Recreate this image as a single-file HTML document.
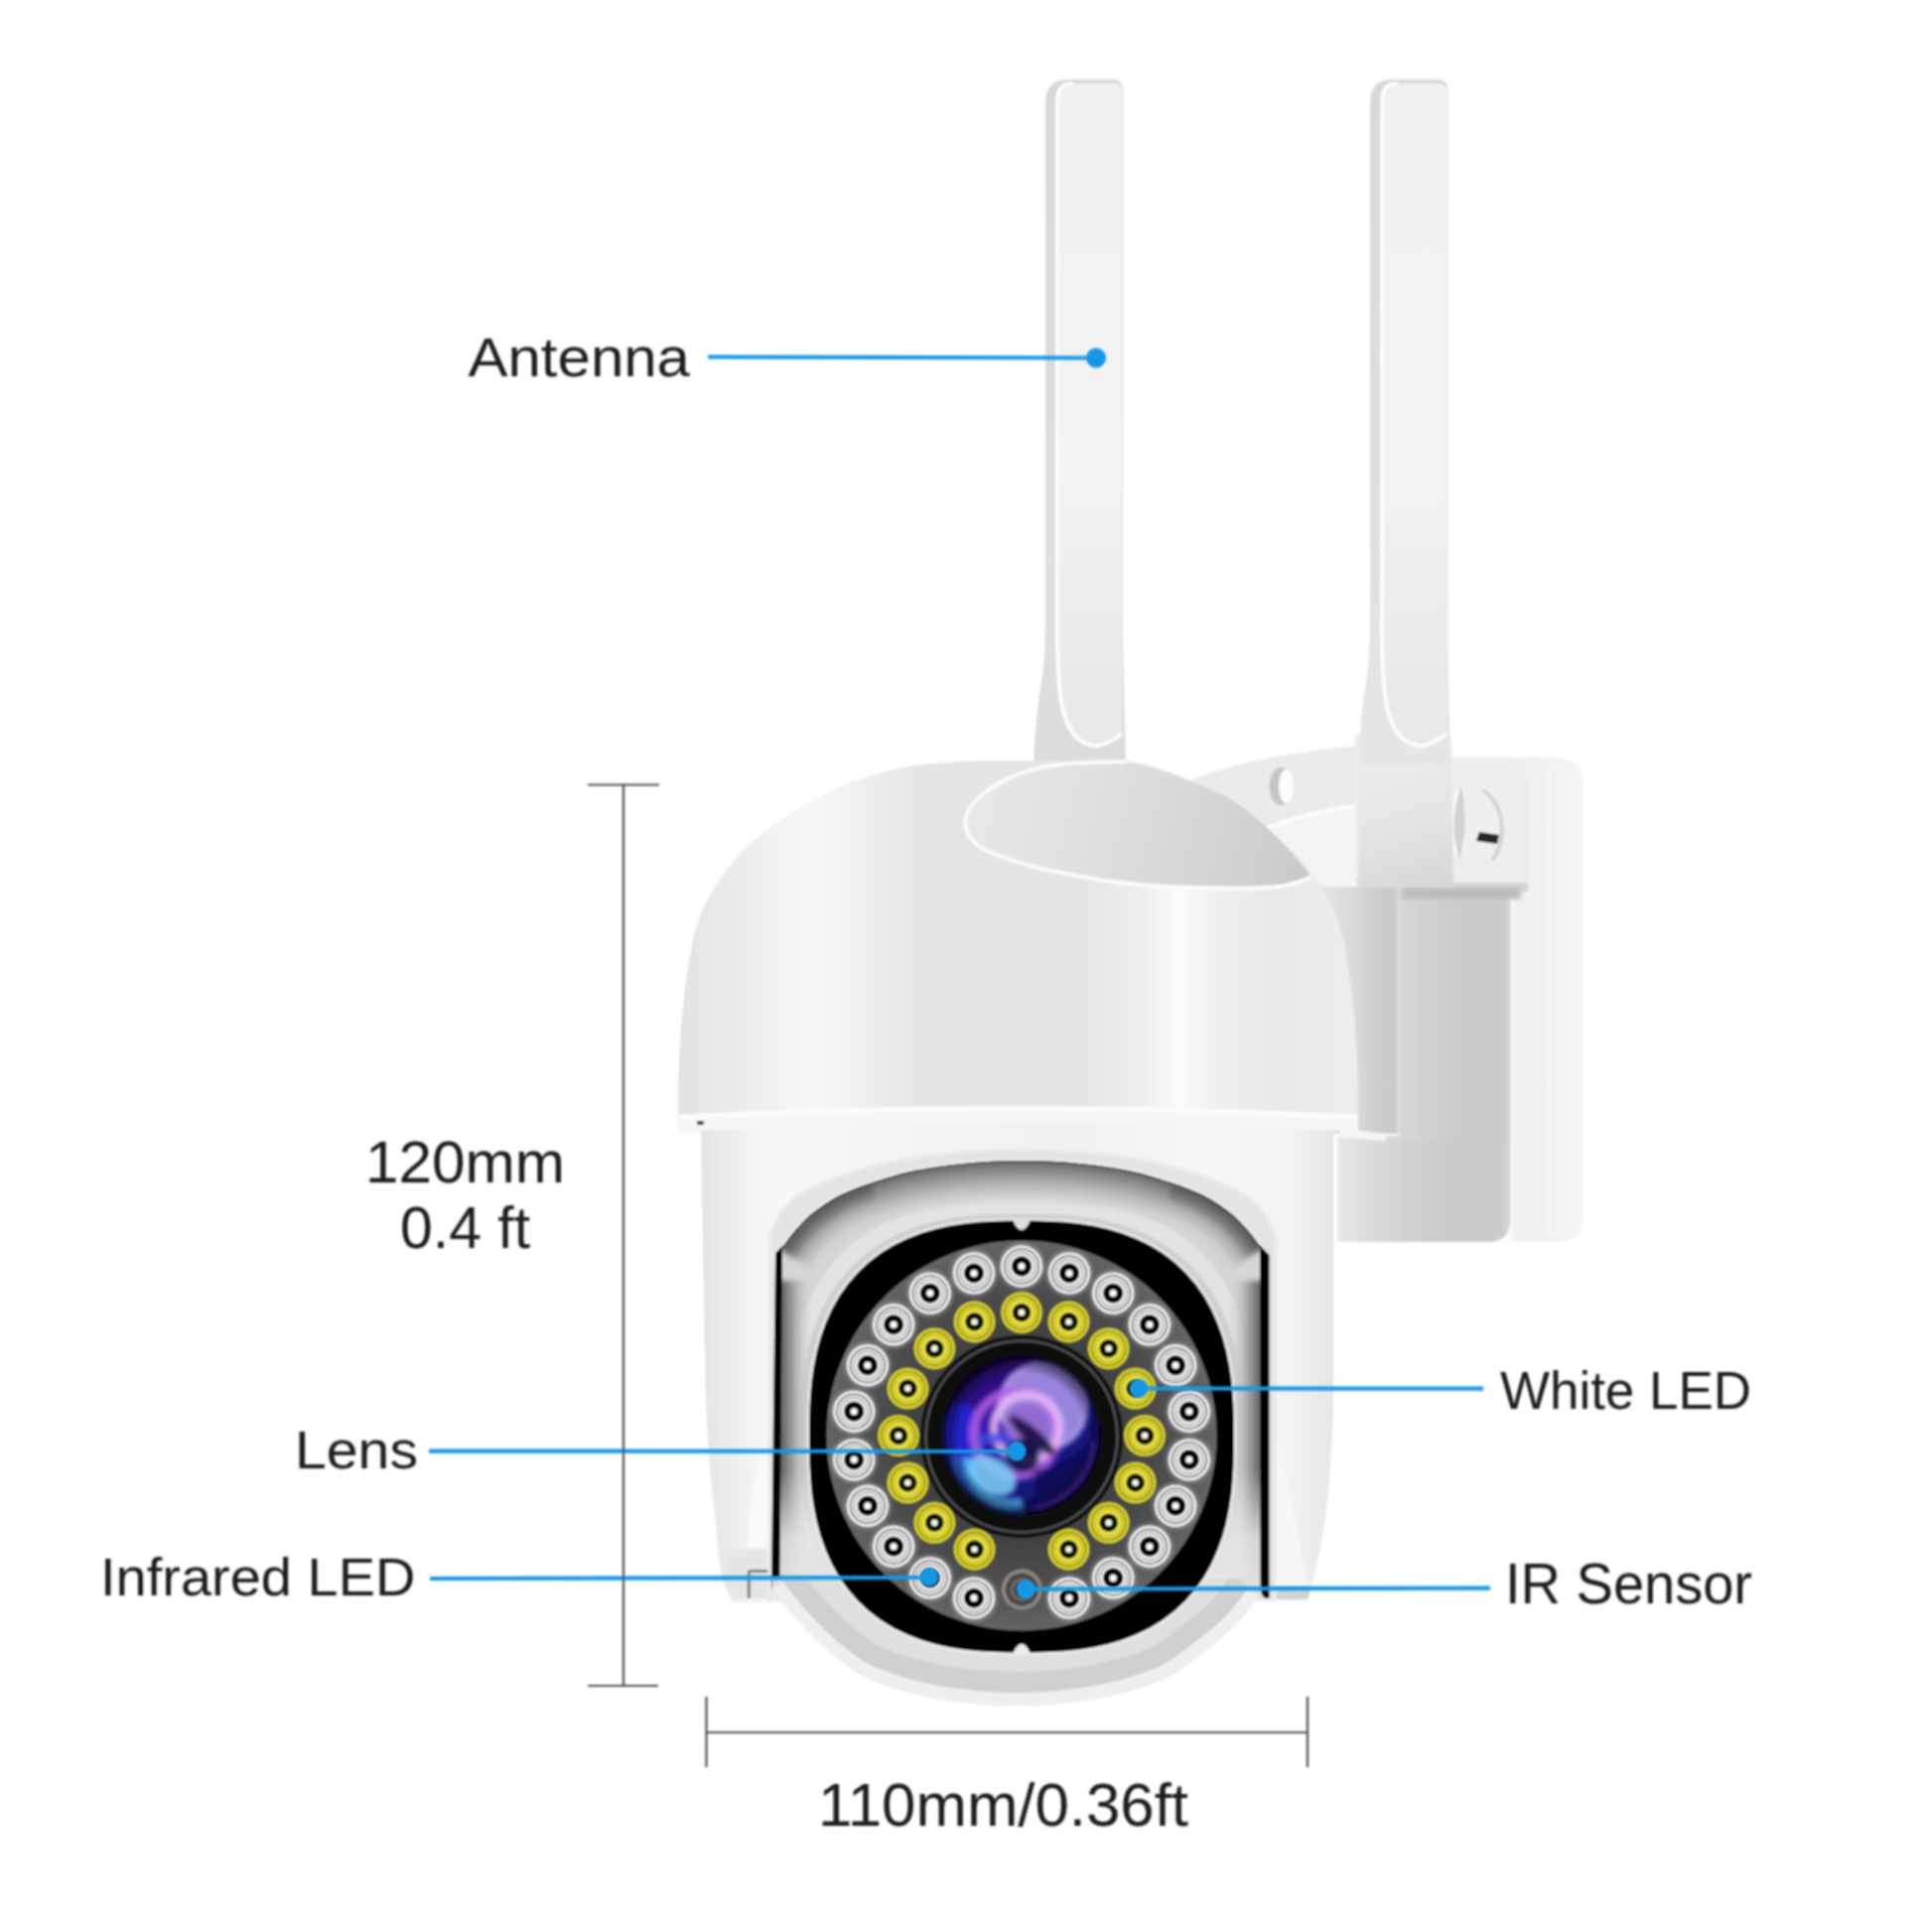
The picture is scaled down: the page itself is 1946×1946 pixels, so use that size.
<!DOCTYPE html>
<html><head><meta charset="utf-8"><title>Camera</title>
<style>
html,body{margin:0;padding:0;background:#fff;}
body{width:1946px;height:1946px;overflow:hidden;position:relative;font-family:"Liberation Sans",sans-serif;}
svg{position:absolute;left:0;top:0;display:block;}
.t{position:absolute;white-space:nowrap;color:#1a1a1a;line-height:1;transform-origin:0 0;font-family:"Liberation Sans",sans-serif;}
</style></head><body>
<svg width="1946" height="1946" viewBox="0 0 1946 1946">
<defs>
<filter id="soft" x="-2%" y="-2%" width="104%" height="104%"><feGaussianBlur stdDeviation="1.1"/></filter>
<filter id="soft2" x="-5%" y="-5%" width="110%" height="110%"><feGaussianBlur stdDeviation="2.5"/></filter>
<linearGradient id="gDome" gradientUnits="userSpaceOnUse" x1="683" y1="0" x2="1366" y2="0">
 <stop offset="0" stop-color="#e2e2e2"/>
 <stop offset="0.05" stop-color="#e8e8e8"/>
 <stop offset="0.12" stop-color="#efefef"/>
 <stop offset="0.20" stop-color="#f8f8f8"/>
 <stop offset="0.30" stop-color="#ececec"/>
 <stop offset="0.36" stop-color="#e5e5e5"/>
 <stop offset="0.60" stop-color="#e5e5e5"/>
 <stop offset="0.68" stop-color="#eeeeee"/>
 <stop offset="0.738" stop-color="#fbfbfb"/>
 <stop offset="0.80" stop-color="#efefef"/>
 <stop offset="0.88" stop-color="#e9e9e9"/>
 <stop offset="1" stop-color="#eeeeee"/>
</linearGradient>
<linearGradient id="gBody" gradientUnits="userSpaceOnUse" x1="706" y1="0" x2="1343" y2="0">
 <stop offset="0" stop-color="#e2e2e2"/>
 <stop offset="0.025" stop-color="#e9e9e9"/>
 <stop offset="0.07" stop-color="#f2f2f2"/>
 <stop offset="0.12" stop-color="#f8f8f8"/>
 <stop offset="0.3" stop-color="#f4f4f4"/>
 <stop offset="0.6" stop-color="#f1f1f1"/>
 <stop offset="0.8" stop-color="#f7f7f7"/>
 <stop offset="0.93" stop-color="#f3f3f3"/>
 <stop offset="0.975" stop-color="#ebebeb"/>
 <stop offset="1" stop-color="#e6e6e6"/>
</linearGradient>
<linearGradient id="gArm" gradientUnits="userSpaceOnUse" x1="1411" y1="0" x2="1521" y2="0">
 <stop offset="0" stop-color="#d6d6d6"/>
 <stop offset="0.3" stop-color="#d0d0d0"/>
 <stop offset="0.6" stop-color="#cacaca"/>
 <stop offset="0.95" stop-color="#cbcbcb"/>
 <stop offset="1" stop-color="#d8d8d8"/>
</linearGradient>
<linearGradient id="gArm2" gradientUnits="userSpaceOnUse" x1="1347" y1="0" x2="1521" y2="0">
 <stop offset="0" stop-color="#e8e8e8"/>
 <stop offset="0.2" stop-color="#dcdcdc"/>
 <stop offset="0.45" stop-color="#d0d0d0"/>
 <stop offset="0.7" stop-color="#cacaca"/>
 <stop offset="0.95" stop-color="#cbcbcb"/>
 <stop offset="1" stop-color="#d8d8d8"/>
</linearGradient>
<linearGradient id="gPlate" gradientUnits="userSpaceOnUse" x1="1519" y1="0" x2="1595" y2="0">
 <stop offset="0" stop-color="#fbfbfb"/>
 <stop offset="0.12" stop-color="#f0f0f0"/>
 <stop offset="0.5" stop-color="#f1f1f1"/>
 <stop offset="1" stop-color="#f5f5f5"/>
</linearGradient>
<linearGradient id="gAnt" x1="0" y1="0" x2="0" y2="1">
 <stop offset="0" stop-color="#f1f1f1"/>
 <stop offset="0.6" stop-color="#f3f3f3"/>
 <stop offset="0.85" stop-color="#ebebeb"/>
 <stop offset="1" stop-color="#e8e8e8"/>
</linearGradient>
<linearGradient id="gAntSide" x1="0" y1="0" x2="0" y2="1">
 <stop offset="0" stop-color="#d8d8d8"/>
 <stop offset="0.7" stop-color="#e0e0e0"/>
 <stop offset="1" stop-color="#dcdcdc"/>
</linearGradient>
<linearGradient id="gRecess" gradientUnits="userSpaceOnUse" x1="975" y1="800" x2="1320" y2="890">
 <stop offset="0" stop-color="#e8e8e8"/>
 <stop offset="0.4" stop-color="#dfdfdf"/>
 <stop offset="0.75" stop-color="#d3d3d3"/>
 <stop offset="1" stop-color="#c9c9c9"/>
</linearGradient>
<radialGradient id="gDisc" gradientUnits="userSpaceOnUse" cx="1029" cy="1446" r="196">
 <stop offset="0" stop-color="#3a3a3a"/>
 <stop offset="0.55" stop-color="#424242"/>
 <stop offset="0.72" stop-color="#4c4c4c"/>
 <stop offset="0.88" stop-color="#585858"/>
 <stop offset="1" stop-color="#646464"/>
</radialGradient>
<linearGradient id="gWin" gradientUnits="userSpaceOnUse" x1="781" y1="1230" x2="900" y2="1400">
 <stop offset="0" stop-color="#d8d8d8"/>
 <stop offset="0.3" stop-color="#a8a8a8"/>
 <stop offset="0.6" stop-color="#cfcfcf"/>
 <stop offset="1" stop-color="#e6e6e6"/>
</linearGradient>
<linearGradient id="gWinR" gradientUnits="userSpaceOnUse" x1="1277" y1="1230" x2="1160" y2="1400">
 <stop offset="0" stop-color="#e0e0e0"/>
 <stop offset="0.3" stop-color="#bcbcbc"/>
 <stop offset="0.6" stop-color="#d8d8d8"/>
 <stop offset="1" stop-color="#eaeaea"/>
</linearGradient>
<radialGradient id="gLens" gradientUnits="userSpaceOnUse" cx="1029" cy="1446" r="80" fx="1010" fy="1475">
 <stop offset="0" stop-color="#2a7fd0"/>
 <stop offset="0.35" stop-color="#3b3bb8"/>
 <stop offset="0.7" stop-color="#3a1a90"/>
 <stop offset="0.92" stop-color="#1a0a50"/>
 <stop offset="1" stop-color="#0a0520"/>
</radialGradient>
<radialGradient id="gBall" gradientUnits="userSpaceOnUse" cx="1029" cy="1420" r="300">
 <stop offset="0.75" stop-color="#f4f4f4"/>
 <stop offset="0.88" stop-color="#e4e4e4"/>
 <stop offset="0.95" stop-color="#dcdcdc"/>
 <stop offset="1" stop-color="#ececec"/>
</radialGradient>
<g id="ledW">
 <circle r="21.2" fill="#ececec"/>
 <circle r="18.0" fill="#5e5e5e"/>
 <circle r="16.5" fill="#f0f0f0"/>
 <circle r="14.2" fill="#8c8c8c"/>
 <circle r="13.0" fill="#f6f6f6"/>
 <circle r="10.2" fill="#060606"/>
 <circle r="3.5" fill="#ffffff"/>
</g>
<g id="ledY">
 <circle r="20.8" fill="#d6ce2a"/>
 <circle r="17.6" fill="#7e781c"/>
 <circle r="16.2" fill="#e2da36"/>
 <circle r="14.0" fill="#aaa226"/>
 <circle r="13.0" fill="#eae344"/>
 <circle r="9.3" fill="#0a0a06"/>
 <circle r="3.2" fill="#fdfde0"/>
</g>
</defs>
<rect width="1946" height="1946" fill="#ffffff"/>
<g filter="url(#soft)">

<path d="M1519 778 Q1519 763 1535 763 L1568 763 Q1594.5 763 1594.5 790 L1594.5 1224 Q1594.5 1251 1568 1251 L1500 1251 L1500 900 Z" fill="url(#gPlate)"/>
<path d="M1560 775 L1560 1240" stroke="#f6f6f6" stroke-width="3" fill="none"/>
<path d="M1190 790 C1230 772 1280 760 1360 752 L1420 748 L1420 905 L1330 905 Z" fill="#ebebeb"/>
<path d="M1275 835 Q1320 814 1420 806 L1420 905 L1330 905 Z" fill="#f4f4f4"/>
<path d="M1275 835 Q1320 814 1420 806" stroke="#fdfdfd" stroke-width="4" fill="none"/>
<ellipse cx="1290" cy="792" rx="11.5" ry="19" fill="#c6c6c6"/>
<ellipse cx="1295.5" cy="792" rx="7.5" ry="17" fill="#fdfdfd"/>
<rect x="1325" y="893" width="86" height="249" fill="url(#gArmL)"/>
<defs><linearGradient id="gArmL" gradientUnits="userSpaceOnUse" x1="1340" y1="0" x2="1408" y2="0"><stop offset="0" stop-color="#e2e2e2"/><stop offset="0.37" stop-color="#dadada"/><stop offset="0.66" stop-color="#cfcfcf"/><stop offset="0.93" stop-color="#c9c9c9"/><stop offset="1" stop-color="#d0d0d0"/></linearGradient></defs>
<path d="M1347 1144 L1411 1144 L1411 890 L1521.5 890 L1521.5 1228 Q1521.5 1251 1498 1251 L1347 1251 Z" fill="url(#gArm2)"/>
<path d="M1411.5 890 L1521.5 890 L1521.5 1150 L1411.5 1150 Z" fill="url(#gArm)"/>
<path d="M1409 890 L1409 1143" stroke="#dcdcdc" stroke-width="3.5" fill="none"/>
<path d="M1347 1136 L1396 1142 L1396 1149 L1347 1145 Z" fill="#f6f6f6"/>
<circle cx="1347.8" cy="1137" r="2.6" fill="#3a3a3a"/>
<path d="M1460 762 L1516 762 Q1539 762 1539 786 L1539 898 L1446 898 L1446 880 L1460 880 Z" fill="#eeeeee"/>
<path d="M1446 889 L1539 889 L1539 898 L1446 898 Z" fill="#d6d6d6"/>
<path d="M1412 894 L1532 894 L1532 906 L1412 906 Z" fill="#bcbcbc" filter="url(#soft2)"/>
<ellipse cx="1489" cy="829" rx="24" ry="39" fill="#efefef"/>
<path d="M1472 792 Q1458 829 1470 866 Q1480 829 1472 792 Z" fill="#d2d2d2"/>
<path d="M1468 795 Q1458 829 1467 862" stroke="#fafafa" stroke-width="3" fill="none"/>
<path d="M1494 796 Q1516 812 1512 845 Q1510 858 1503 866" stroke="#d4d4d4" stroke-width="4" fill="none"/>
<path d="M1490 838 L1510 841 L1508 850 L1487 847 Z" fill="#262626"/>
<ellipse cx="1449" cy="843" rx="3" ry="8" fill="#cccccc"/>
<defs><linearGradient id="gBlk" gradientUnits="userSpaceOnUse" x1="1380" y1="760" x2="1420" y2="895"><stop offset="0" stop-color="#ececec"/><stop offset="0.6" stop-color="#e4e4e4"/><stop offset="1" stop-color="#d8d8d8"/></linearGradient></defs>
<path d="M1365 740 L1462 740 L1464 894 L1375 894 Q1365.5 894 1365.5 884 Z" fill="url(#gBlk)"/>
<path d="M1366.5 760 L1366.5 884" stroke="#efefef" stroke-width="3" fill="none"/>
<defs><linearGradient id="gAntSide2" x1="0" y1="0" x2="0" y2="1"><stop offset="0" stop-color="#d8d8d8"/><stop offset="0.7" stop-color="#e0e0e0"/><stop offset="1" stop-color="#e6e6e6"/></linearGradient></defs>
<path d="M1380 104 Q1380 80 1402 80 L1448 80 Q1458 80 1458 90 L1458 640 Q1459 700 1461 770 L1368 770 Q1370 720 1377 680 Q1380 660 1380 620 Z" fill="url(#gAntSide2)"/>
<path d="M1392 102 Q1392 84 1408 84 L1449 84 Q1457 84 1457 92 L1457 737 Q1438 753 1428 751 Q1398 746 1394 690 Q1392 670 1392 640 Z" fill="url(#gAnt)"/>
<path d="M1408 84 Q1392 84 1392 102 L1392 640 Q1392 670 1394 690 Q1398 746 1428 751 Q1438 753 1457 739" stroke="#fdfdfd" stroke-width="4" fill="none"/>
<path d="M1053 104 Q1053 80 1075 80 L1121 80 Q1131 80 1131 90 L1131 640 Q1132 700 1134 768 L1041 768 Q1043 720 1050 680 Q1053 660 1053 620 Z" fill="url(#gAntSide)"/>
<path d="M1065 102 Q1065 84 1081 84 L1122 84 Q1130 84 1130 92 L1130 737 Q1111 753 1101 751 Q1071 746 1067 690 Q1065 670 1065 640 Z" fill="url(#gAnt)"/>
<path d="M1081 84 Q1065 84 1065 102 L1065 640 Q1065 670 1067 690 Q1071 746 1101 751 Q1111 753 1130 739" stroke="#fdfdfd" stroke-width="4" fill="none"/>
<path d="M683 1130 L683 1100 C684 1040 690 985 698 947 C706 912 722 888 740 866 C760 843 790 822 826 802 C860 784 900 772 940 769 C975 766 1000 766 1025 766 C1051 766 1076 766 1111 769 C1151 772 1191 784 1225 802 C1261 822 1291 843 1311 866 C1329 888 1345 912 1353 947 C1361 985 1367 1040 1368 1100 L1368 1130 Q1025.5 1112 683 1130 Z" fill="url(#gDome)"/>
<path d="M683 1127 Q1025.5 1110 1368 1127 L1368 1140 Q1025.5 1124 683 1141 Z" fill="#f6f6f6"/>
<path d="M684 1125 Q1025.5 1108 1367 1125" stroke="#fcfcfc" stroke-width="5" fill="none"/>
<rect x="702" y="1129" width="7" height="4" fill="#333"/>
<path d="M972.5 832 C972 822 974 818 977 814 C982 806 988 801 994 796.5 C1006 788 1020 781 1038 776 C1050 772 1070 769 1095 768 L1135 767 C1160 770 1185 780 1233 801 C1262 818 1292 846 1321 883 C1305 891 1290 894 1266 894.5 C1230 895 1195 894.5 1157 892 C1120 889 1085 883 1049 875 C1025 869 1008 863 994 857 C982 851 974 842 972.5 832 Z" fill="url(#gRecess)"/>
<path d="M1135 767 L1095 768 C1070 769 1050 772 1038 776 C1020 781 1006 788 994 796.5 C988 801 982 806 977 814 C974 818 972 822 972.5 832 C974 842 982 851 994 857 C1008 863 1025 869 1049 875 C1085 883 1120 889 1157 892 C1195 894.5 1230 895 1266 894.5 C1290 894 1305 891 1321 883" stroke="#fbfbfb" stroke-width="4" fill="none"/>
<path d="M706 1139 Q1025.5 1123 1343 1139 L1343 1400 C1342 1450 1340 1500 1334 1535 C1330 1560 1326 1580 1322 1593 L1316 1612 L1282 1612 L1282 1600 L776 1600 L776 1614 L738 1614 C734 1606 731 1600 728 1593 C724 1575 722 1555 721 1535 C718 1510 716 1490 715 1477 C712 1440 711 1410 710.5 1390 Z" fill="url(#gBody)"/>
<path d="M776 1440 C762 1470 756 1500 755 1535 L754 1580 L776 1580 Z" fill="#fafafa" opacity="0.8"/>
<path d="M1284 1440 C1296 1480 1306 1540 1318 1600 L1284 1600 Z" fill="#f8f8f8" opacity="0.8"/>
<path d="M728 1560 L778 1560 L778 1610 L742 1610 Q732 1606 730 1596 Z" fill="#e6e6e6"/>
<path d="M754.3 1582 L754.3 1610 M754 1582.5 L774 1582.5" stroke="#7c7c7c" stroke-width="3" fill="none"/>
<path d="M1276 1598 L1321 1598 L1317 1611 L1276 1611 Z" fill="#d2d2d2"/>
<path d="M775 1612 L775 1248 C777 1232 790 1214 805 1203 C835 1186 880 1172 928 1165 C960 1160 1000 1158 1029.5 1158 C1059 1158 1099 1160 1131 1165 C1179 1172 1224 1186 1254 1203 C1269 1214 1282 1232 1284.5 1248 L1284.5 1612 Z" fill="#e4e4e4"/>
<path d="M775 1612 L775 1248 C777 1232 790 1214 805 1203 C835 1186 880 1172 928 1165 C960 1160 1000 1158 1029.5 1158 C1059 1158 1099 1160 1131 1165 C1179 1172 1224 1186 1254 1203 C1269 1214 1282 1232 1284.5 1248 L1284.5 1612 Z" fill="none" stroke="#ebebeb" stroke-width="3"/>
<path d="M781 1612 L781 1262 L790 1253.5 C797 1243 806 1233 815 1224.5 C826 1216 836 1209 846 1203.8 C856 1199 866 1195 877 1191.4 C888 1188 898 1185 908 1182 C945 1173 990 1169 1029 1169 C1068 1169 1113 1173 1150 1182 C1160 1185 1170 1188 1181 1191.4 C1192 1195 1202 1199 1212 1203.8 C1222 1209 1232 1216 1243 1224.5 C1252 1233 1261 1243 1268 1253.5 L1276 1262 L1276 1612 Z" fill="#fafafa" stroke="#fafafa" stroke-width="3"/>
<clipPath id="clipInn"><path d="M781 1612 L781 1262 L790 1253.5 C797 1243 806 1233 815 1224.5 C826 1216 836 1209 846 1203.8 C856 1199 866 1195 877 1191.4 C888 1188 898 1185 908 1182 C945 1173 990 1169 1029 1169 C1068 1169 1113 1173 1150 1182 C1160 1185 1170 1188 1181 1191.4 C1192 1195 1202 1199 1212 1203.8 C1222 1209 1232 1216 1243 1224.5 C1252 1233 1261 1243 1268 1253.5 L1276 1262 L1276 1612 Z"/></clipPath>
<g clip-path="url(#clipInn)">
<path d="M781 1612 L781 1262 L790 1253.5 C797 1243 806 1233 815 1224.5 C826 1216 836 1209 846 1203.8 C856 1199 866 1195 877 1191.4 C888 1188 898 1185 908 1182 C945 1173 990 1169 1029 1169 C1068 1169 1113 1173 1150 1182 C1160 1185 1170 1188 1181 1191.4 C1192 1195 1202 1199 1212 1203.8 C1222 1209 1232 1216 1243 1224.5 C1252 1233 1261 1243 1268 1253.5 L1276 1262 L1276 1612 Z" fill="#d6d6d6"/>
<path d="M1266.0 1447.0 L1265.9 1462.5 L1265.6 1478.1 L1264.7 1493.9 L1263.2 1509.8 L1260.9 1525.7 L1257.7 1541.7 L1253.4 1557.6 L1247.8 1573.3 L1240.9 1588.6 L1232.6 1603.3 L1222.9 1617.1 L1211.9 1629.9 L1199.5 1641.4 L1186.0 1651.6 L1171.6 1660.4 L1156.5 1667.8 L1140.8 1673.8 L1124.9 1678.4 L1108.8 1681.9 L1092.6 1684.4 L1076.6 1686.1 L1060.6 1687.0 L1044.8 1687.4 L1029.0 1687.5 L1013.2 1687.4 L997.4 1687.0 L981.4 1686.1 L965.4 1684.4 L949.2 1681.9 L933.1 1678.4 L917.2 1673.8 L901.5 1667.8 L886.4 1660.4 L872.0 1651.6 L858.5 1641.4 L846.1 1629.9 L835.1 1617.1 L825.4 1603.3 L817.1 1588.6 L810.2 1573.3 L804.6 1557.6 L800.3 1541.7 L797.1 1525.7 L794.8 1509.8 L793.3 1493.9 L792.4 1478.1 L792.1 1462.5 L792.0 1447.0 L792.1 1431.5 L792.4 1415.9 L793.3 1400.1 L794.8 1384.2 L797.1 1368.3 L800.3 1352.3 L804.6 1336.4 L810.2 1320.7 L817.1 1305.4 L825.4 1290.7 L835.1 1276.9 L846.1 1264.1 L858.5 1252.6 L872.0 1242.4 L886.4 1233.6 L901.5 1226.2 L917.2 1220.2 L933.1 1215.6 L949.2 1212.1 L965.4 1209.6 L981.4 1207.9 L997.4 1207.0 L1013.2 1206.6 L1029.0 1206.5 L1044.8 1206.6 L1060.6 1207.0 L1076.6 1207.9 L1092.6 1209.6 L1108.8 1212.1 L1124.9 1215.6 L1140.8 1220.2 L1156.5 1226.2 L1171.6 1233.6 L1186.0 1242.4 L1199.5 1252.6 L1211.9 1264.1 L1222.9 1276.9 L1232.6 1290.7 L1240.9 1305.4 L1247.8 1320.7 L1253.4 1336.4 L1257.7 1352.3 L1260.9 1368.3 L1263.2 1384.2 L1264.7 1400.1 L1265.6 1415.9 L1265.9 1431.5 Z" fill="#e3e3e3"/>
<path d="M1252.0 1447.0 L1251.9 1461.6 L1251.6 1476.3 L1250.7 1491.1 L1249.3 1506.0 L1247.1 1521.0 L1244.0 1536.1 L1239.9 1551.0 L1234.6 1565.7 L1228.0 1580.0 L1220.1 1593.6 L1210.9 1606.5 L1200.4 1618.4 L1188.7 1629.1 L1176.0 1638.5 L1162.4 1646.6 L1148.2 1653.4 L1133.5 1658.9 L1118.6 1663.2 L1103.5 1666.4 L1088.4 1668.7 L1073.4 1670.2 L1058.5 1671.1 L1043.7 1671.4 L1029.0 1671.5 L1014.3 1671.4 L999.5 1671.1 L984.6 1670.2 L969.6 1668.7 L954.5 1666.4 L939.4 1663.2 L924.5 1658.9 L909.8 1653.4 L895.6 1646.6 L882.0 1638.5 L869.3 1629.1 L857.6 1618.4 L847.1 1606.5 L837.9 1593.6 L830.0 1580.0 L823.4 1565.7 L818.1 1551.0 L814.0 1536.1 L810.9 1521.0 L808.7 1506.0 L807.3 1491.1 L806.4 1476.3 L806.1 1461.6 L806.0 1447.0 L806.1 1432.4 L806.4 1417.7 L807.3 1402.9 L808.7 1388.0 L810.9 1373.0 L814.0 1357.9 L818.1 1343.0 L823.4 1328.3 L830.0 1314.0 L837.9 1300.4 L847.1 1287.5 L857.6 1275.6 L869.3 1264.9 L882.0 1255.5 L895.6 1247.4 L909.8 1240.6 L924.5 1235.1 L939.4 1230.8 L954.5 1227.6 L969.6 1225.3 L984.6 1223.8 L999.5 1222.9 L1014.3 1222.6 L1029.0 1222.5 L1043.7 1222.6 L1058.5 1222.9 L1073.4 1223.8 L1088.4 1225.3 L1103.5 1227.6 L1118.6 1230.8 L1133.5 1235.1 L1148.2 1240.6 L1162.4 1247.4 L1176.0 1255.5 L1188.7 1264.9 L1200.4 1275.6 L1210.9 1287.5 L1220.1 1300.4 L1228.0 1314.0 L1234.6 1328.3 L1239.9 1343.0 L1244.0 1357.9 L1247.1 1373.0 L1249.3 1388.0 L1250.7 1402.9 L1251.6 1417.7 L1251.9 1432.4 Z" fill="#d0d0d0"/>
<g filter="url(#soft3)">
<defs><filter id="soft3" x="-5%" y="-5%" width="110%" height="110%"><feGaussianBlur stdDeviation="2.6"/></filter></defs>
<path d="M788 1256 L790 1253.5 C797 1243 806 1233 815 1224.5 C826 1216 836 1209 846 1203.8 C856 1199 866 1195 877 1191.4 C888 1188 898 1185 908 1182 C945 1173 990 1169 1029 1169 C1068 1169 1113 1173 1150 1182 C1160 1185 1170 1188 1181 1191.4 C1192 1195 1202 1199 1212 1203.8 C1222 1209 1232 1216 1243 1224.5 C1252 1233 1261 1243 1268 1253.5 L1270 1256" fill="none" stroke="#d0d0d0" stroke-width="80" stroke-linejoin="round"/>
<path d="M788 1256 L790 1253.5 C797 1243 806 1233 815 1224.5 C826 1216 836 1209 846 1203.8 C856 1199 866 1195 877 1191.4 C888 1188 898 1185 908 1182 C945 1173 990 1169 1029 1169 C1068 1169 1113 1173 1150 1182 C1160 1185 1170 1188 1181 1191.4 C1192 1195 1202 1199 1212 1203.8 C1222 1209 1232 1216 1243 1224.5 C1252 1233 1261 1243 1268 1253.5 L1270 1256" fill="none" stroke="#bcbcbc" stroke-width="62" stroke-linejoin="round"/>
<path d="M788 1256 L790 1253.5 C797 1243 806 1233 815 1224.5 C826 1216 836 1209 846 1203.8 C856 1199 866 1195 877 1191.4 C888 1188 898 1185 908 1182 C945 1173 990 1169 1029 1169 C1068 1169 1113 1173 1150 1182 C1160 1185 1170 1188 1181 1191.4 C1192 1195 1202 1199 1212 1203.8 C1222 1209 1232 1216 1243 1224.5 C1252 1233 1261 1243 1268 1253.5 L1270 1256" fill="none" stroke="#a6a6a6" stroke-width="46" stroke-linejoin="round"/>
<path d="M788 1256 L790 1253.5 C797 1243 806 1233 815 1224.5 C826 1216 836 1209 846 1203.8 C856 1199 866 1195 877 1191.4 C888 1188 898 1185 908 1182 C945 1173 990 1169 1029 1169 C1068 1169 1113 1173 1150 1182 C1160 1185 1170 1188 1181 1191.4 C1192 1195 1202 1199 1212 1203.8 C1222 1209 1232 1216 1243 1224.5 C1252 1233 1261 1243 1268 1253.5 L1270 1256" fill="none" stroke="#8c8c8c" stroke-width="30" stroke-linejoin="round"/>
<path d="M788 1256 L790 1253.5 C797 1243 806 1233 815 1224.5 C826 1216 836 1209 846 1203.8 C856 1199 866 1195 877 1191.4 C888 1188 898 1185 908 1182 C945 1173 990 1169 1029 1169 C1068 1169 1113 1173 1150 1182 C1160 1185 1170 1188 1181 1191.4 C1192 1195 1202 1199 1212 1203.8 C1222 1209 1232 1216 1243 1224.5 C1252 1233 1261 1243 1268 1253.5 L1270 1256" fill="none" stroke="#707070" stroke-width="14" stroke-linejoin="round"/>
<path d="M786 1258 L790 1253.5 C797 1243 806 1233 815 1224.5 C826 1216 836 1209 846 1203.8 C856 1199 866 1195 877 1191.4" fill="none" stroke="#707070" stroke-width="34" opacity="0.55"/>
<path d="M786 1258 L790 1253.5 C797 1243 806 1233 815 1224.5 C826 1216 836 1209 846 1203.8 C856 1199 866 1195 877 1191.4" fill="none" stroke="#5a5a5a" stroke-width="18" opacity="0.7"/>
<path d="M1271 1258 L1268 1253.5 C1261 1243 1252 1233 1243 1224.5 C1232 1216 1222 1209 1212 1203.8 C1202 1199 1192 1195 1181 1191.4" fill="none" stroke="#707070" stroke-width="34" opacity="0.55"/>
<path d="M1271 1258 L1268 1253.5 C1261 1243 1252 1233 1243 1224.5 C1232 1216 1222 1209 1212 1203.8 C1202 1199 1192 1195 1181 1191.4" fill="none" stroke="#5a5a5a" stroke-width="18" opacity="0.7"/>
<rect x="781" y="1290" width="40" height="330" fill="url(#gSideL)"/>
<rect x="1236" y="1290" width="40" height="330" fill="url(#gSideR)"/>
<rect x="781" y="1480" width="496" height="140" fill="url(#gLowFade)"/>
</g>
<defs><linearGradient id="gLowFade" x1="0" y1="0" x2="0" y2="1"><stop offset="0" stop-color="#e6e6e6" stop-opacity="0"/><stop offset="0.5" stop-color="#e6e6e6" stop-opacity="0.85"/><stop offset="1" stop-color="#e4e4e4" stop-opacity="1"/></linearGradient></defs>
<path d="M788 1256 L790 1253.5 C797 1243 806 1233 815 1224.5 C826 1216 836 1209 846 1203.8 C856 1199 866 1195 877 1191.4 C888 1188 898 1185 908 1182 C945 1173 990 1169 1029 1169 C1068 1169 1113 1173 1150 1182 C1160 1185 1170 1188 1181 1191.4 C1192 1195 1202 1199 1212 1203.8 C1222 1209 1232 1216 1243 1224.5 C1252 1233 1261 1243 1268 1253.5 L1270 1256" fill="none" stroke="#2e2e2e" stroke-width="3" stroke-linejoin="round"/>
</g>
<defs><linearGradient id="gSideL" gradientUnits="userSpaceOnUse" x1="787" y1="0" x2="817" y2="0">
<stop offset="0" stop-color="#606060"/><stop offset="0.2" stop-color="#808080"/><stop offset="0.5" stop-color="#b4b4b4"/><stop offset="1" stop-color="#d0d0d0" stop-opacity="0"/></linearGradient>
<linearGradient id="gSideR" gradientUnits="userSpaceOnUse" x1="1268" y1="0" x2="1238" y2="0">
<stop offset="0" stop-color="#686868"/><stop offset="0.2" stop-color="#888888"/><stop offset="0.5" stop-color="#bababa"/><stop offset="1" stop-color="#d4d4d4" stop-opacity="0"/></linearGradient></defs>
<path d="M777 1592 L781 1262 L788 1255 L785.5 1590 Q785 1600 779 1602 Q777 1600 777 1592 Z" fill="#060606"/>
<path d="M1278.5 1610 L1278.5 1264 L1269 1254 L1269.5 1598 Q1270 1608 1275 1610 Z" fill="#060606"/>
<clipPath id="clipBall"><path d="M778 1601 C782.1 1606.0 793.1 1620.5 802.8 1631 C812.5 1641.5 823.5 1653.8 836 1664 C848.5 1674.2 859.8 1684.2 878 1692 C896.2 1699.8 920.7 1706.7 945 1711 C969.3 1715.3 997.7 1718.0 1024 1718 C1050.3 1718.0 1078.7 1715.3 1103 1711 C1127.3 1706.7 1151.8 1699.8 1170 1692 C1188.2 1684.2 1199.3 1673.5 1212 1664 C1224.7 1654.5 1236.7 1644.5 1246 1635 C1255.3 1625.5 1264.3 1611.7 1268 1607 L1268 1590 L778 1590 Z"/></clipPath>
<path d="M778 1601 C782.1 1606.0 793.1 1620.5 802.8 1631 C812.5 1641.5 823.5 1653.8 836 1664 C848.5 1674.2 859.8 1684.2 878 1692 C896.2 1699.8 920.7 1706.7 945 1711 C969.3 1715.3 997.7 1718.0 1024 1718 C1050.3 1718.0 1078.7 1715.3 1103 1711 C1127.3 1706.7 1151.8 1699.8 1170 1692 C1188.2 1684.2 1199.3 1673.5 1212 1664 C1224.7 1654.5 1236.7 1644.5 1246 1635 C1255.3 1625.5 1264.3 1611.7 1268 1607 L1268 1590 L778 1590 Z" fill="#dfdfdf"/>
<g clip-path="url(#clipBall)">
<path d="M778 1601 C782.1 1606.0 793.1 1620.5 802.8 1631 C812.5 1641.5 823.5 1653.8 836 1664 C848.5 1674.2 859.8 1684.2 878 1692 C896.2 1699.8 920.7 1706.7 945 1711 C969.3 1715.3 997.7 1718.0 1024 1718 C1050.3 1718.0 1078.7 1715.3 1103 1711 C1127.3 1706.7 1151.8 1699.8 1170 1692 C1188.2 1684.2 1199.3 1673.5 1212 1664 C1224.7 1654.5 1236.7 1644.5 1246 1635 C1255.3 1625.5 1264.3 1611.7 1268 1607" fill="none" stroke="#d0d0d0" stroke-width="68"/>
<path d="M778 1601 C782.1 1606.0 793.1 1620.5 802.8 1631 C812.5 1641.5 823.5 1653.8 836 1664 C848.5 1674.2 859.8 1684.2 878 1692 C896.2 1699.8 920.7 1706.7 945 1711 C969.3 1715.3 997.7 1718.0 1024 1718 C1050.3 1718.0 1078.7 1715.3 1103 1711 C1127.3 1706.7 1151.8 1699.8 1170 1692 C1188.2 1684.2 1199.3 1673.5 1212 1664 C1224.7 1654.5 1236.7 1644.5 1246 1635 C1255.3 1625.5 1264.3 1611.7 1268 1607" fill="none" stroke="#efefef" stroke-width="26"/>
</g>
<path d="M1245.0 1447.0 L1244.9 1461.2 L1244.6 1475.4 L1243.8 1489.7 L1242.5 1504.2 L1240.4 1518.8 L1237.4 1533.3 L1233.5 1547.9 L1228.5 1562.2 L1222.2 1576.1 L1214.7 1589.5 L1205.9 1602.1 L1195.8 1613.8 L1184.5 1624.3 L1172.2 1633.7 L1159.1 1641.7 L1145.3 1648.4 L1131.0 1653.9 L1116.5 1658.2 L1101.8 1661.4 L1087.1 1663.7 L1072.4 1665.2 L1057.8 1666.0 L1043.4 1666.4 L1029.0 1666.5 L1014.6 1666.4 L1000.2 1666.0 L985.6 1665.2 L970.9 1663.7 L956.2 1661.4 L941.5 1658.2 L927.0 1653.9 L912.7 1648.4 L898.9 1641.7 L885.8 1633.7 L873.5 1624.3 L862.2 1613.8 L852.1 1602.1 L843.3 1589.5 L835.8 1576.1 L829.5 1562.2 L824.5 1547.9 L820.6 1533.3 L817.6 1518.8 L815.5 1504.2 L814.2 1489.7 L813.4 1475.4 L813.1 1461.2 L813.0 1447.0 L813.1 1432.8 L813.4 1418.6 L814.2 1404.3 L815.5 1389.8 L817.6 1375.2 L820.6 1360.7 L824.5 1346.1 L829.5 1331.8 L835.8 1317.9 L843.3 1304.5 L852.1 1291.9 L862.2 1280.2 L873.5 1269.7 L885.8 1260.3 L898.9 1252.3 L912.7 1245.6 L927.0 1240.1 L941.5 1235.8 L956.2 1232.6 L970.9 1230.3 L985.6 1228.8 L1000.2 1228.0 L1014.6 1227.6 L1029.0 1227.5 L1043.4 1227.6 L1057.8 1228.0 L1072.4 1228.8 L1087.1 1230.3 L1101.8 1232.6 L1116.5 1235.8 L1131.0 1240.1 L1145.3 1245.6 L1159.1 1252.3 L1172.2 1260.3 L1184.5 1269.7 L1195.8 1280.2 L1205.9 1291.9 L1214.7 1304.5 L1222.2 1317.9 L1228.5 1331.8 L1233.5 1346.1 L1237.4 1360.7 L1240.4 1375.2 L1242.5 1389.8 L1243.8 1404.3 L1244.6 1418.6 L1244.9 1432.8 Z" fill="#f4f4f4"/>
<path d="M1243.0 1447.0 L1242.9 1461.0 L1242.6 1475.1 L1241.8 1489.3 L1240.5 1503.7 L1238.4 1518.1 L1235.5 1532.5 L1231.6 1546.9 L1226.6 1561.1 L1220.4 1574.9 L1213.0 1588.2 L1204.2 1600.7 L1194.2 1612.2 L1183.1 1622.7 L1170.9 1632.0 L1157.9 1639.9 L1144.2 1646.6 L1130.1 1652.0 L1115.7 1656.3 L1101.1 1659.5 L1086.5 1661.7 L1072.0 1663.2 L1057.6 1664.1 L1043.3 1664.4 L1029.0 1664.5 L1014.7 1664.4 L1000.4 1664.1 L986.0 1663.2 L971.5 1661.7 L956.9 1659.5 L942.3 1656.3 L927.9 1652.0 L913.8 1646.6 L900.1 1639.9 L887.1 1632.0 L874.9 1622.7 L863.8 1612.2 L853.8 1600.7 L845.0 1588.2 L837.6 1574.9 L831.4 1561.1 L826.4 1546.9 L822.5 1532.5 L819.6 1518.1 L817.5 1503.7 L816.2 1489.3 L815.4 1475.1 L815.1 1461.0 L815.0 1447.0 L815.1 1433.0 L815.4 1418.9 L816.2 1404.7 L817.5 1390.3 L819.6 1375.9 L822.5 1361.5 L826.4 1347.1 L831.4 1332.9 L837.6 1319.1 L845.0 1305.8 L853.8 1293.3 L863.8 1281.8 L874.9 1271.3 L887.1 1262.0 L900.1 1254.1 L913.8 1247.4 L927.9 1242.0 L942.3 1237.7 L956.9 1234.5 L971.5 1232.3 L986.0 1230.8 L1000.4 1229.9 L1014.7 1229.6 L1029.0 1229.5 L1043.3 1229.6 L1057.6 1229.9 L1072.0 1230.8 L1086.5 1232.3 L1101.1 1234.5 L1115.7 1237.7 L1130.1 1242.0 L1144.2 1247.4 L1157.9 1254.1 L1170.9 1262.0 L1183.1 1271.3 L1194.2 1281.8 L1204.2 1293.3 L1213.0 1305.8 L1220.4 1319.1 L1226.6 1332.9 L1231.6 1347.1 L1235.5 1361.5 L1238.4 1375.9 L1240.5 1390.3 L1241.8 1404.7 L1242.6 1418.9 L1242.9 1433.0 Z" fill="#040404"/>
<path d="M1021 1228 L1021 1231 Q1029 1247 1037 1231 L1037 1228 Z" fill="#e0e0e0"/>
<path d="M1021 1667 L1021 1663.5 Q1029 1648 1037 1663.5 L1037 1667 Z" fill="#ececec"/>
<circle cx="1029" cy="1446" r="196.5" fill="url(#gDisc)"/>
<circle cx="1029.0" cy="1275.5" r="25" fill="#ffffff" opacity="0.13"/>
<circle cx="1077.0" cy="1282.4" r="25" fill="#ffffff" opacity="0.13"/>
<circle cx="1121.2" cy="1302.6" r="25" fill="#ffffff" opacity="0.13"/>
<circle cx="1157.9" cy="1334.3" r="25" fill="#ffffff" opacity="0.13"/>
<circle cx="1184.1" cy="1375.2" r="25" fill="#ffffff" opacity="0.13"/>
<circle cx="1197.8" cy="1421.7" r="25" fill="#ffffff" opacity="0.13"/>
<circle cx="1197.8" cy="1470.3" r="25" fill="#ffffff" opacity="0.13"/>
<circle cx="1184.1" cy="1516.8" r="25" fill="#ffffff" opacity="0.13"/>
<circle cx="1157.9" cy="1557.7" r="25" fill="#ffffff" opacity="0.13"/>
<circle cx="1121.2" cy="1589.4" r="25" fill="#ffffff" opacity="0.13"/>
<circle cx="1077.0" cy="1609.6" r="25" fill="#ffffff" opacity="0.13"/>
<circle cx="981.0" cy="1609.6" r="25" fill="#ffffff" opacity="0.13"/>
<circle cx="936.8" cy="1589.4" r="25" fill="#ffffff" opacity="0.13"/>
<circle cx="900.1" cy="1557.7" r="25" fill="#ffffff" opacity="0.13"/>
<circle cx="873.9" cy="1516.8" r="25" fill="#ffffff" opacity="0.13"/>
<circle cx="860.2" cy="1470.3" r="25" fill="#ffffff" opacity="0.13"/>
<circle cx="860.2" cy="1421.7" r="25" fill="#ffffff" opacity="0.13"/>
<circle cx="873.9" cy="1375.2" r="25" fill="#ffffff" opacity="0.13"/>
<circle cx="900.1" cy="1334.3" r="25" fill="#ffffff" opacity="0.13"/>
<circle cx="936.8" cy="1302.6" r="25" fill="#ffffff" opacity="0.13"/>
<circle cx="981.0" cy="1282.4" r="25" fill="#ffffff" opacity="0.13"/>
<use href="#ledW" x="1029.0" y="1275.5"/>
<use href="#ledW" x="1077.0" y="1282.4"/>
<use href="#ledW" x="1121.2" y="1302.6"/>
<use href="#ledW" x="1157.9" y="1334.3"/>
<use href="#ledW" x="1184.1" y="1375.2"/>
<use href="#ledW" x="1197.8" y="1421.7"/>
<use href="#ledW" x="1197.8" y="1470.3"/>
<use href="#ledW" x="1184.1" y="1516.8"/>
<use href="#ledW" x="1157.9" y="1557.7"/>
<use href="#ledW" x="1121.2" y="1589.4"/>
<use href="#ledW" x="1077.0" y="1609.6"/>
<use href="#ledW" x="981.0" y="1609.6"/>
<use href="#ledW" x="936.8" y="1589.4"/>
<use href="#ledW" x="900.1" y="1557.7"/>
<use href="#ledW" x="873.9" y="1516.8"/>
<use href="#ledW" x="860.2" y="1470.3"/>
<use href="#ledW" x="860.2" y="1421.7"/>
<use href="#ledW" x="873.9" y="1375.2"/>
<use href="#ledW" x="900.1" y="1334.3"/>
<use href="#ledW" x="936.8" y="1302.6"/>
<use href="#ledW" x="981.0" y="1282.4"/>
<circle cx="1029.3" cy="1601" r="20.5" fill="#8a8580"/><circle cx="1029.3" cy="1601" r="16.5" fill="#4a4643"/><circle cx="1029.3" cy="1601" r="12" fill="#6a625c"/><circle cx="1029.3" cy="1601" r="7.5" fill="#1e1b19"/>
<use href="#ledY" x="1029.0" y="1322.0"/>
<use href="#ledY" x="1076.5" y="1331.4"/>
<use href="#ledY" x="1116.7" y="1358.3"/>
<use href="#ledY" x="1143.6" y="1398.5"/>
<use href="#ledY" x="1153.0" y="1446.0"/>
<use href="#ledY" x="1143.6" y="1493.5"/>
<use href="#ledY" x="1116.7" y="1533.7"/>
<use href="#ledY" x="1076.5" y="1560.6"/>
<use href="#ledY" x="981.5" y="1560.6"/>
<use href="#ledY" x="941.3" y="1533.7"/>
<use href="#ledY" x="914.4" y="1493.5"/>
<use href="#ledY" x="905.0" y="1446.0"/>
<use href="#ledY" x="914.4" y="1398.5"/>
<use href="#ledY" x="941.3" y="1358.3"/>
<use href="#ledY" x="981.5" y="1331.4"/>
<circle cx="1029" cy="1447" r="102" fill="#09090b"/>
<circle cx="1029" cy="1447" r="96.5" fill="none" stroke="#4a4a4e" stroke-width="3"/>
<circle cx="1029" cy="1447" r="90" fill="#0c0c10"/>
<defs><linearGradient id="gGlass" gradientUnits="userSpaceOnUse" x1="975" y1="1385" x2="1070" y2="1520"><stop offset="0" stop-color="#2a0a66"/><stop offset="0.35" stop-color="#3312a8"/><stop offset="0.6" stop-color="#1c1c9c"/><stop offset="1" stop-color="#0c0c48"/></linearGradient><radialGradient id="gVig" gradientUnits="userSpaceOnUse" cx="1029" cy="1446" r="81"><stop offset="0.78" stop-color="#000010" stop-opacity="0"/><stop offset="0.94" stop-color="#000010" stop-opacity="0.5"/><stop offset="1" stop-color="#000008" stop-opacity="0.95"/></radialGradient></defs>
<clipPath id="clipLens"><circle cx="1029" cy="1446" r="80.5"/></clipPath>
<circle cx="1029" cy="1446" r="80.5" fill="url(#gGlass)"/>
<g clip-path="url(#clipLens)"><g filter="url(#soft2)">
<ellipse cx="968" cy="1452" rx="22" ry="40" fill="#2226d0" opacity="0.85"/>
<circle cx="1051" cy="1416" r="45" fill="#ab96e6" opacity="0.86"/>
<circle cx="1051" cy="1416" r="44" fill="none" stroke="#d4c6f6" stroke-width="3" opacity="0.7"/>
<circle cx="1023" cy="1444" r="42" fill="none" stroke="#b45ee8" stroke-width="10" opacity="0.85"/>
<circle cx="1034" cy="1438" r="33" fill="none" stroke="#e6b8f6" stroke-width="9" opacity="0.9"/>
<circle cx="1034" cy="1438" r="24" fill="#8a58c8" opacity="0.55"/>
<ellipse cx="1040" cy="1446" rx="30" ry="7.5" transform="rotate(40 1040 1446)" fill="#120838" opacity="0.85"/>
<path d="M962 1466 A58 58 0 0 0 1034 1526" fill="none" stroke="#3a7cea" stroke-width="9" opacity="0.85"/>
<path d="M976 1468 A42 42 0 0 0 1030 1514" fill="none" stroke="#52b6f2" stroke-width="12" opacity="0.9"/>
<ellipse cx="1000" cy="1486" rx="26" ry="17" transform="rotate(35 1000 1486)" fill="#7ed2f6" opacity="0.85"/>
<path d="M985 1452 Q1000 1446 1018 1450" stroke="#3a50e0" stroke-width="10" fill="none" opacity="0.8"/>
<circle cx="1030" cy="1466" r="17" fill="#0a0a34" opacity="0.85"/>
<path d="M1040 1480 Q1075 1478 1100 1450 L1110 1500 L1050 1530 Z" fill="#0c0a40" opacity="0.5"/>
<path d="M1103 1452 A74 74 0 0 1 1040 1520" fill="none" stroke="#7a34f0" stroke-width="4" opacity="0.85"/>
</g>
<circle cx="1029" cy="1446" r="81" fill="url(#gVig)"/>
</g>
</g>
<g filter="url(#softL)">
<defs><filter id="softL" x="-2%" y="-2%" width="104%" height="104%"><feGaussianBlur stdDeviation="0.8"/></filter></defs>
<line x1="713" y1="359.5" x2="1100" y2="360.5" stroke="#1597e6" stroke-width="4.2"/>
<circle cx="1104" cy="360.5" r="10" fill="#1597e6"/>
<line x1="432" y1="1461.6" x2="1024" y2="1461.8" stroke="#1597e6" stroke-width="4.2"/>
<circle cx="1024" cy="1461.8" r="9.7" fill="#1597e6"/>
<line x1="433" y1="1590" x2="936" y2="1589" stroke="#1597e6" stroke-width="4.2"/>
<circle cx="936" cy="1588.6" r="9.5" fill="#1597e6"/>
<line x1="1147" y1="1398.5" x2="1494" y2="1398.6" stroke="#1597e6" stroke-width="4.2"/>
<circle cx="1147" cy="1398.5" r="9.5" fill="#1597e6"/>
<line x1="1033" y1="1600.6" x2="1501" y2="1599.6" stroke="#1597e6" stroke-width="4.2"/>
<circle cx="1033" cy="1600.6" r="9.7" fill="#1597e6"/>
<path d="M628 790.5 L628 1698 M592 790.5 L664 790.5 M592 1698 L663 1698" stroke="#4d4d4d" stroke-width="2.2" fill="none"/>
<path d="M711.5 1745 L1317 1745 M711.5 1709 L711.5 1780 M1317 1709 L1317 1780" stroke="#4d4d4d" stroke-width="2.2" fill="none"/>
<text x="471.5" y="379.3" font-family="Liberation Sans, sans-serif" font-size="55" font-weight="400" fill="#1c1c1c" textLength="223.5" lengthAdjust="spacingAndGlyphs">Antenna</text>
<text x="368" y="1190.6" font-family="Liberation Sans, sans-serif" font-size="60" font-weight="400" fill="#1c1c1c" textLength="201.0" lengthAdjust="spacingAndGlyphs">120mm</text>
<text x="403" y="1256.8" font-family="Liberation Sans, sans-serif" font-size="60" font-weight="400" fill="#1c1c1c" textLength="131.0" lengthAdjust="spacingAndGlyphs">0.4 ft</text>
<text x="297" y="1478.6" font-family="Liberation Sans, sans-serif" font-size="53" font-weight="400" fill="#1c1c1c" textLength="124.0" lengthAdjust="spacingAndGlyphs">Lens</text>
<text x="101" y="1607.3" font-family="Liberation Sans, sans-serif" font-size="53" font-weight="400" fill="#1c1c1c" textLength="317.5" lengthAdjust="spacingAndGlyphs">Infrared LED</text>
<text x="1511" y="1418.5" font-family="Liberation Sans, sans-serif" font-size="54" font-weight="400" fill="#1c1c1c" textLength="253.0" lengthAdjust="spacingAndGlyphs">White LED</text>
<text x="1516" y="1615.3" font-family="Liberation Sans, sans-serif" font-size="57" font-weight="400" fill="#1c1c1c" textLength="249.0" lengthAdjust="spacingAndGlyphs">IR Sensor</text>
<text x="824" y="1838.8" font-family="Liberation Sans, sans-serif" font-size="61" font-weight="400" fill="#1c1c1c" textLength="373.0" lengthAdjust="spacingAndGlyphs">110mm/0.36ft</text>
</g>
</svg></body></html>
